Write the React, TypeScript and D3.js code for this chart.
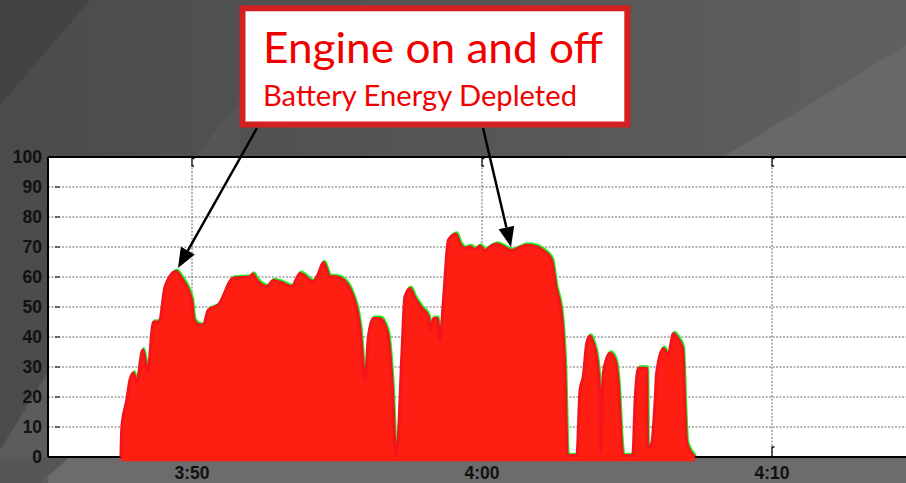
import React from "react";
import * as d3 from "d3";

// time in minutes after 3:00 (50 = 3:50, 60 = 4:00, 70 = 4:10)
const timeMinutes = [
  47.55, 47.58, 47.75, 47.86, 47.98, 48.09, 48.3, 48.47, 48.67, 48.87, 49.07, 49.45, 49.64, 49.99, 50.07,
  50.28, 50.39, 50.56, 50.91, 51.42, 52.0, 52.09, 52.23, 52.58, 52.8, 53.09, 53.44, 53.72, 54.18, 54.36,
  54.53, 54.76, 54.99, 55.33, 55.56, 55.68, 55.79, 55.97, 56.08, 56.25, 56.48, 56.74, 56.9, 57.03, 57.1,
  57.24, 57.34, 57.52, 57.69, 57.92, 58.15, 58.23, 58.32, 58.46, 58.55, 58.67, 58.84, 59.1, 59.24, 59.41,
  59.59, 59.76, 59.93, 60.1, 60.28, 60.51, 60.73, 61.02, 61.31, 61.54, 61.89, 62.11, 62.4, 62.55, 62.75,
  62.86, 62.94, 62.98, 63.27, 63.38, 63.49, 63.61, 63.72, 63.84, 63.96, 64.07, 64.1, 64.18, 64.41, 64.59,
  64.7, 64.82, 64.86, 65.2, 65.28, 65.39, 65.68, 65.71, 65.85, 65.97, 66.02, 66.25, 66.42, 66.6, 66.71,
  66.92, 67.0, 67.06, 67.34,
];
const values = [
  0, 10, 19, 25.7, 28, 24.6, 35.7, 28.5, 45, 45, 56.8, 61.8, 59.6, 52.3, 45.7,
  44, 44, 49, 50.7, 59.6, 60, 61, 59, 56.8, 58.8, 58.1, 56.8, 61.2, 58.4, 61.2,
  64.8, 60.1, 60, 57.9, 53.4, 49.6, 43.4, 25.7, 40, 46.2, 46.2, 41.5, 25, 0.5, 5,
  35, 53.4, 56.2, 52.9, 49.6, 46.8, 42.3, 46.2, 46.2, 39, 52.3, 72.3, 74.3, 71.2, 69.6,
  70.1, 69.2, 70.3, 68.8, 70.1, 71, 70.1, 68.8, 69.9, 70.6, 70.1, 68.8, 65.7, 56.8, 46.8,
  29, 1, 0.5, 0.5, 22.3, 26.8, 37.9, 40.3, 37.9, 32.9, 19, 1.3, 27.9, 34.6, 32.3,
  24.6, 3.4, 0.5, 0.5, 19, 29.6, 29.6, 3, 4.6, 19, 27.9, 36.2, 34, 41.2, 40.1,
  36.2, 15.7, 4.6, 0,
];

const yTicks = [0, 10, 20, 30, 40, 50, 60, 70, 80, 90, 100];
const xTickValues = [50, 60, 70];
const xTickLabels = ["3:50", "4:00", "4:10"];

const titleText = "Engine on and off";
const subtitleText = "Battery Energy Depleted";

const W = 906;
const H = 483;
const left = 48;
const right = 906;
const top = 157;
const bottom = 457;

export default function App() {
  const x = d3.scaleLinear().domain([50, 70]).range([192, 772]);
  const y = d3.scaleLinear().domain([0, 100]).range([bottom, top]);
  const pts = timeMinutes.map((t, i) => [t, values[i]] as [number, number]);

  const area = d3
    .area<[number, number]>()
    .x((d) => x(d[0]))
    .y0(y(-1.4))
    .y1((d) => y(d[1]))
    .curve(d3.curveMonotoneX);
  const line = d3
    .line<[number, number]>()
    .x((d) => x(d[0]))
    .y((d) => y(d[1]))
    .curve(d3.curveMonotoneX);

  const arrow = (x1: number, y1: number, x2: number, y2: number) => {
    const ang = Math.atan2(y2 - y1, x2 - x1);
    const L = 20;
    const Wd = 8;
    const bx = x2 - L * Math.cos(ang);
    const by = y2 - L * Math.sin(ang);
    const px = -Math.sin(ang) * Wd;
    const py = Math.cos(ang) * Wd;
    return (
      <g>
        <line x1={x1} y1={y1} x2={bx} y2={by} stroke="#000" strokeWidth={2.5} />
        <polygon points={`${x2},${y2} ${bx + px},${by + py} ${bx - px},${by - py}`} fill="#000" />
      </g>
    );
  };

  return (
    <svg
      width={W}
      height={H}
      style={{ position: "fixed", left: 0, top: 0, display: "block" }}
      fontFamily="'Liberation Sans', Arial, sans-serif"
    >
      <defs>
        <linearGradient id="bg" x1="0" y1="0" x2="1" y2="0">
          <stop offset="0" stopColor="#4b4b4b" />
          <stop offset="1" stopColor="#606060" />
        </linearGradient>
      </defs>
      {/* background */}
      <rect x={0} y={0} width={W} height={H} fill="url(#bg)" />
      <polygon points="0,0 90,0 0,105" fill="#434343" />
      <polygon points="240,100 240,157 195,157" fill="#555555" />
      <polygon points="906,45 906,157 723,157" fill="#686868" />
      <polygon points="0,450 48,372 48,483 0,483" fill="#5c5c5c" />
      <rect x={48} y={457} width={858} height={26} fill="#6c6c6c" />
      <polygon points="0,457 70,457 40,483 0,483" fill="#565656" />

      {/* plot area */}
      <rect x={left} y={top} width={right - left} height={bottom - top} fill="#fff" />

      {/* gridlines */}
      {yTicks
        .filter((v) => v > 0 && v < 100)
        .map((v) => (
          <line
            key={"hg" + v}
            x1={left}
            x2={right}
            y1={y(v)}
            y2={y(v)}
            stroke="#6a6a6a"
            strokeWidth={1}
            strokeDasharray="2,1.5"
          />
        ))}
      {xTickValues.map((v) => (
        <line
          key={"vg" + v}
          x1={x(v)}
          x2={x(v)}
          y1={top}
          y2={bottom}
          stroke="#6a6a6a"
          strokeWidth={1}
          strokeDasharray="2,1.5"
        />
      ))}

      {/* ticks */}
      {yTicks.map((v) => (
        <line key={"yt" + v} x1={55} x2={60} y1={y(v)} y2={y(v)} stroke="#222" strokeWidth={1.2} />
      ))}
      {xTickValues.map((v) => (
        <g key={"xt" + v}>
          <path d={`M${x(v) + 2.5},${top + 1.5} H${x(v)} V${top + 9} H${x(v) + 2}`} fill="none" stroke="#111" strokeWidth={1.3} />
          <path d={`M${x(v)},${bottom} V${bottom - 10} H${x(v) + 2.5}`} fill="none" stroke="#111" strokeWidth={1.3} />
        </g>
      ))}

      {/* frame */}
      <line x1={left} x2={right} y1={top} y2={top} stroke="#000" strokeWidth={2} />
      <line x1={left} x2={left} y1={top} y2={bottom} stroke="#000" strokeWidth={2} />
      <line x1={left} x2={right} y1={bottom} y2={bottom} stroke="#000" strokeWidth={2} />

      {/* series */}
      <g transform="translate(1.2,-1.6)">
        <path d={line(pts) || ""} fill="none" stroke="#22ee22" strokeWidth={2.5} strokeLinejoin="round" />
      </g>
      <path d={area(pts) || ""} fill="#ff1e12" />
      <path d={line(pts) || ""} fill="none" stroke="#f2161c" strokeWidth={3} strokeLinejoin="round" />

      {/* axis labels */}
      {yTicks.map((v) => (
        <text key={"yl" + v} x={42} y={y(v) + 6} textAnchor="end" fontSize={17.5} fontWeight="bold" fill="#111">
          {v}
        </text>
      ))}
      {xTickValues.map((v, i) => (
        <text key={"xl" + v} x={x(v)} y={479} textAnchor="middle" fontSize={17.5} fontWeight="bold" fill="#111">
          {xTickLabels[i]}
        </text>
      ))}

      {/* annotation */}
      {arrow(257, 128, 178, 268)}
      {arrow(483, 128, 511, 247)}
      <rect x={242.5} y={8.3} width={384.8} height={116.2} fill="#fff" stroke="#d42020" strokeWidth={6} />
      <text
        x={263}
        y={63}
        fontFamily="Lato, 'Open Sans', sans-serif"
        fontSize={43}
        fill="#f00000"
        textLength={340}
        lengthAdjust="spacingAndGlyphs"
      >
        {titleText}
      </text>
      <text
        x={263}
        y={106}
        fontFamily="Lato, 'Open Sans', sans-serif"
        fontSize={28}
        fill="#f00000"
        textLength={314}
        lengthAdjust="spacingAndGlyphs"
      >
        {subtitleText}
      </text>
    </svg>
  );
}
